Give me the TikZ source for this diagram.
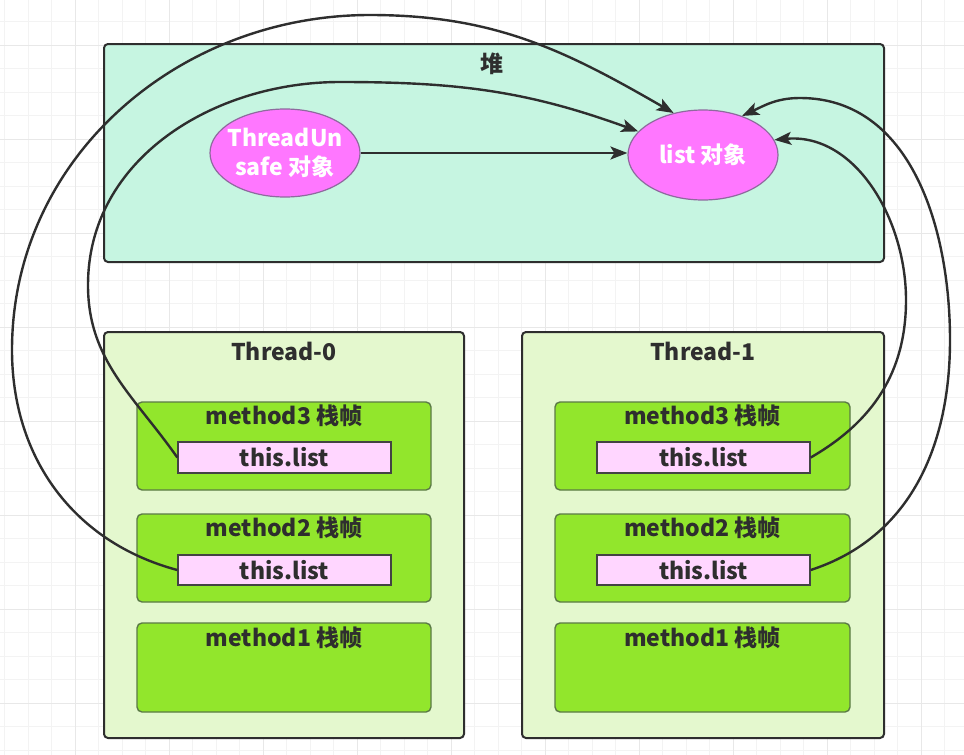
\documentclass[tikz,border=0pt]{standalone}
\usepackage{fontspec}
\setmainfont{Noto Sans CJK SC}
\usetikzlibrary{arrows.meta,shapes.geometric}
\definecolor{heapfill}{HTML}{C6F5E1}
\definecolor{threadfill}{HTML}{E4F8CE}
\definecolor{framefill}{HTML}{92E62C}
\definecolor{framedraw}{HTML}{5B7A46}
\definecolor{listfill}{HTML}{FFD6FF}
\definecolor{ellfill}{HTML}{FF77FF}
\definecolor{elldraw}{HTML}{8E6A9E}
\definecolor{ink}{HTML}{2E2E2E}
\definecolor{gridminor}{HTML}{F3F3F3}
\definecolor{gridmajor}{HTML}{E8E8E8}
\begin{document}
\begin{tikzpicture}[x=1pt,y=-1pt,
  txt/.style={font=\bfseries\fontsize{23}{28}\selectfont, text=ink, inner sep=0pt},
  heapbox/.style={draw=ink, line width=2pt, fill=heapfill, rounded corners=4pt},
  threadbox/.style={draw=ink, line width=2pt, fill=threadfill, rounded corners=4pt},
  framebox/.style={draw=framedraw, line width=1.4pt, fill=framefill, rounded corners=5pt},
  listbox/.style={draw=ink!90, line width=1.4pt, fill=listfill, font=\bfseries\fontsize{23}{28}\selectfont, text=ink, inner sep=0pt},
  obj/.style={ellipse, draw=elldraw, line width=1.2pt, fill=ellfill, text=white, align=center, inner sep=0pt,
     font=\bfseries\fontsize{23}{29}\selectfont},
  link/.style={draw=ink, line width=2.4pt},
  tip/.style={-{Stealth[length=17pt,width=13pt,inset=4pt]}}
]
\useasboundingbox (0,0) rectangle (964,755);
\fill[white] (0,0) rectangle (964,755);
% grid
\foreach \i in {0,...,40} {\draw[gridminor, line width=1pt] ({4.5+23.5*\i},0) -- ({4.5+23.5*\i},755);}
\foreach \i in {0,...,31} {\draw[gridminor, line width=1pt] (0,{21.5+23.5*\i}) -- (964,{21.5+23.5*\i});}
\foreach \i in {0,...,10} {\draw[gridmajor, line width=1pt] ({75+94*\i},0) -- ({75+94*\i},755);}
\foreach \i in {0,...,7} {\draw[gridmajor, line width=1pt] (0,{45+94*\i}) -- (964,{45+94*\i});}

% heap
\node[heapbox, minimum width=780pt, minimum height=218pt] (heap) at (494,153) {};
\node[txt] (heapT) at (492,64) {堆};
\node[obj, inner xsep=-13pt, minimum width=150pt, minimum height=88pt] (tu) at (285,153) {ThreadUn\\safe 对象};
\node[obj, minimum width=150pt, minimum height=90pt] (list) at (703,155) {list 对象};

% threads
\node[threadbox, minimum width=360pt, minimum height=406pt] (t0) at (284,535) {};
\node[txt] (t0T) at (284,351) {Thread-0};
\node[threadbox, minimum width=362pt, minimum height=406pt] (t1) at (703,535) {};
\node[txt] (t1T) at (703,351) {Thread-1};

% frames thread-0
\node[framebox, minimum width=294pt, minimum height=88pt] (t0m3) at (284,446) {};
\node[txt] (t0m3T) at (284,416) {method3 栈帧};
\node[listbox, minimum width=213pt, minimum height=31pt] (t0m3l) at (284.5,457.5) {this.list};
\node[framebox, minimum width=294pt, minimum height=88pt] (t0m2) at (284,558) {};
\node[txt] (t0m2T) at (284,528) {method2 栈帧};
\node[listbox, minimum width=213pt, minimum height=30pt] (t0m2l) at (284.5,570) {this.list};
\node[framebox, minimum width=294pt, minimum height=89pt] (t0m1) at (284,667.5) {};
\node[txt] (t0m1T) at (284,638) {method1 栈帧};

% frames thread-1
\node[framebox, minimum width=295pt, minimum height=88pt] (t1m3) at (702.5,446) {};
\node[txt] (t1m3T) at (702.5,416) {method3 栈帧};
\node[listbox, minimum width=213pt, minimum height=31pt] (t1m3l) at (703.5,457.5) {this.list};
\node[framebox, minimum width=295pt, minimum height=88pt] (t1m2) at (702.5,558) {};
\node[txt] (t1m2T) at (702.5,528) {method2 栈帧};
\node[listbox, minimum width=213pt, minimum height=30pt] (t1m2l) at (703.5,570) {this.list};
\node[framebox, minimum width=295pt, minimum height=89pt] (t1m1) at (702.5,667.5) {};
\node[txt] (t1m1T) at (702.5,638) {method1 栈帧};

% waypoints
\coordinate (a1) at (88,285);
\coordinate (a2) at (340,82);
\coordinate (b1) at (12,350);
\coordinate (b2) at (370,15);
\coordinate (c1) at (906,300);
\coordinate (d1) at (950,340);
\coordinate (d2) at (800,98);

% connectors
\draw[link, tip] (tu.east) -- (list.west |- tu.east);
\draw[link, tip] (t0m3l.west) to[out=125,in=-90] (a1) to[out=90,in=180] (a2) to[out=0,in=160] (list.160);
\draw[link, tip] (t0m2l.west) to[out=165,in=-90] (b1) to[out=90,in=180] (b2) to[out=0,in=150] (list.125);
\draw[link, tip] (t1m3l.east) to[out=30,in=-90] (c1) to[out=90,in=5] (list.12);
\draw[link, tip] (t1m2l.east) to[out=18,in=-90] (d1) to[out=90,in=0] (d2) to[out=180,in=25] (list.45);
\end{tikzpicture}
\end{document}
